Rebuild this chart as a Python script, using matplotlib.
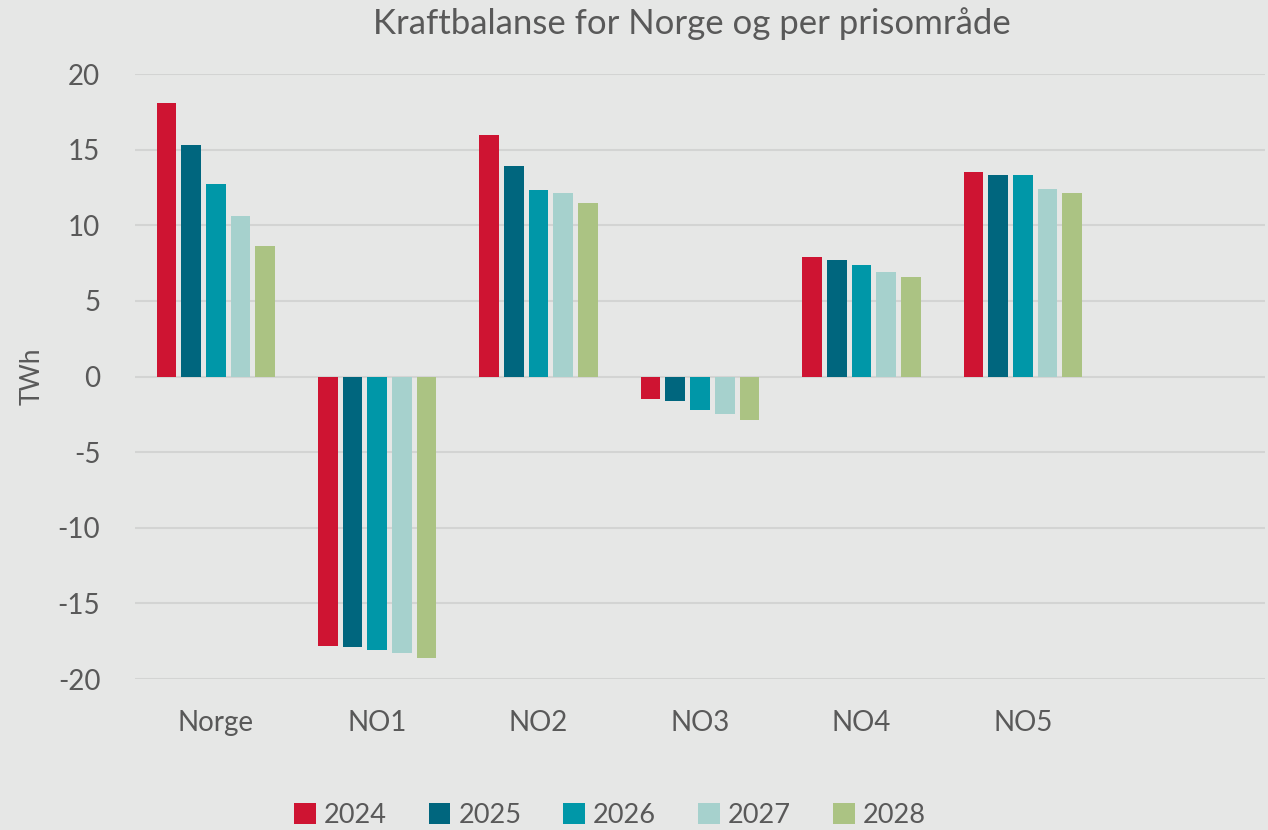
import matplotlib
matplotlib.use("Agg")
import matplotlib.pyplot as plt
import numpy as np

categories = ["Norge", "NO1", "NO2", "NO3", "NO4", "NO5"]
years = ["2024", "2025", "2026", "2027", "2028"]
v2024 = [18.1, -17.8, 16.0, -1.5, 7.9, 13.55]
v2025 = [15.3, -17.85, 13.95, -1.65, 7.7, 13.3]
v2026 = [12.7, -18.05, 12.35, -2.2, 7.35, 13.3]
v2027 = [10.6, -18.3, 12.15, -2.45, 6.9, 12.4]
v2028 = [8.65, -18.6, 11.45, -2.85, 6.55, 12.15]
series = [v2024, v2025, v2026, v2027, v2028]
colors = ["#CE1432", "#00667E", "#0097A8", "#A6D1CD", "#ABC383"]

bg = "#E6E7E6"
grid = "#D3D4D3"
txt = "#595959"
plt.rcParams['font.family'] = ['Lato', 'DejaVu Sans']

fig = plt.figure(figsize=(12.68, 8.3), dpi=100, facecolor=bg)
ax = fig.add_axes([0.1065, 0.1819, 0.8911, 0.7289], facecolor=bg)

x = np.arange(len(categories))
step = 0.153
width = 0.122
for i, (vals, c, yr) in enumerate(zip(series, colors, years)):
    ax.bar(x + (i - 2) * step, vals, width=width, color=c, label=yr, zorder=3)

ax.set_xlim(-0.5, 6.5)
ax.set_ylim(-20, 20)
ax.set_yticks(np.arange(-20, 21, 5))
ax.set_yticklabels([str(v) for v in range(-20, 21, 5)])
ax.set_xticks(x)
ax.set_xticklabels(categories)
ax.yaxis.grid(True, color=grid, linewidth=1.5, zorder=0)
ax.set_axisbelow(True)
for s in ax.spines.values():
    s.set_visible(False)
ax.tick_params(axis='both', length=0, labelsize=20, colors=txt)
ax.tick_params(axis='y', pad=25)
ax.tick_params(axis='x', pad=22)
ax.set_ylabel("TWh", fontsize=19, color=txt)
ax.yaxis.set_label_coords(-0.08, 0.5)

fig.text(0.546, 0.972, "Kraftbalanse for Norge og per prisområde", ha='center', va='center',
         fontsize=25, color=txt)

leg = fig.legend(loc='center', bbox_to_anchor=(0.481, 0.018), ncol=5, frameon=False,
                 fontsize=19.5, labelcolor=txt, handlelength=0.8, handleheight=0.8,
                 handletextpad=0.3, columnspacing=1.55)

fig.savefig("out.png", dpi=100, facecolor=bg)
